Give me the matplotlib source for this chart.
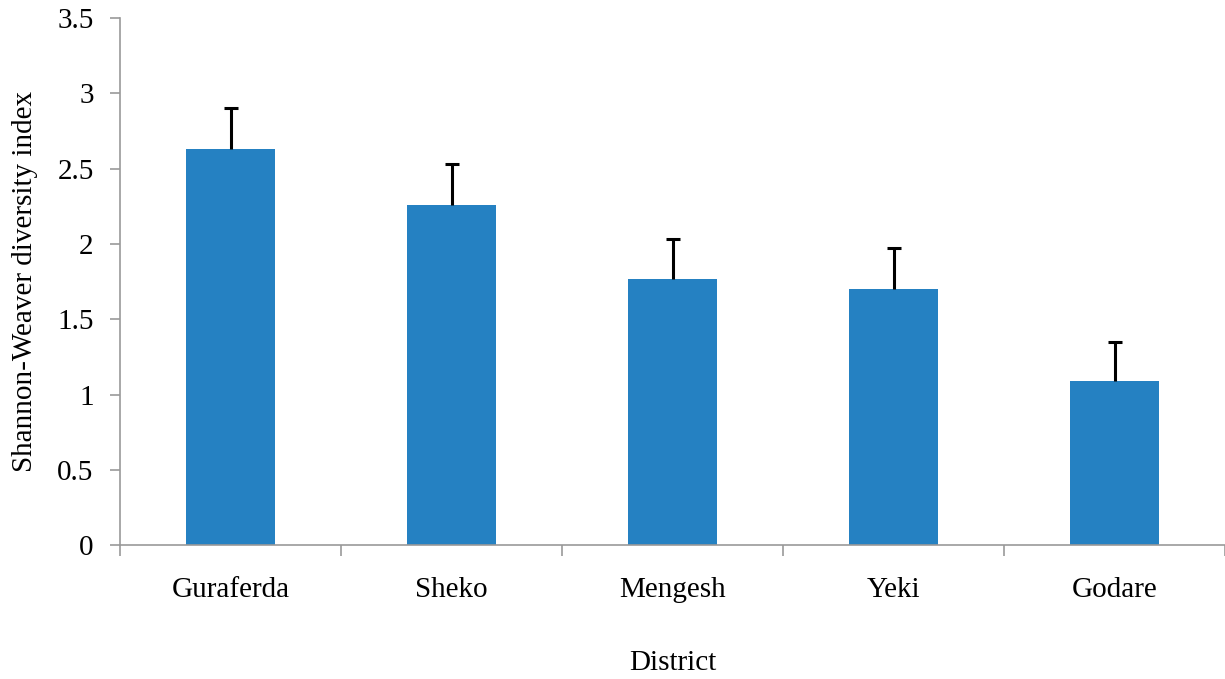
import matplotlib.pyplot as plt
import numpy as np

# data
districts = ["Guraferda", "Sheko", "Mengesh", "Yeki", "Godare"]
diversity = [2.63, 2.26, 1.77, 1.70, 1.09]
errors = [0.27, 0.27, 0.265, 0.27, 0.26]

plt.rcParams['font.family'] = ['Liberation Serif', 'DejaVu Serif']

fig = plt.figure(figsize=(12.25, 6.79), dpi=100)
ax = fig.add_axes([0.098, 0.197, 0.902, 0.7765])

x = np.arange(len(districts))
lower = np.zeros(len(errors))
ax.bar(x, diversity, width=0.4, color='#2581C2', zorder=2)
eb = ax.errorbar(x, diversity, yerr=[lower, errors], fmt='none', ecolor='black',
                 elinewidth=2.2, capsize=5, capthick=2.2, zorder=3)
# only the upper cap is shown
eb[1][0].set_visible(False)

ax.set_xlim(-0.5, len(districts) - 0.5)
ax.set_ylim(0, 3.5)
ax.set_yticks(np.arange(0, 3.51, 0.5))
ax.set_yticklabels(['0', '0.5', '1', '1.5', '2', '2.5', '3', '3.5'])

# category labels centred, ticks on the category boundaries
ax.set_xticks(x)
ax.set_xticklabels(districts)
ax.tick_params(axis='x', which='major', length=0, pad=23)
ax.set_xticks(np.arange(-0.5, len(districts) - 0.4, 1.0), minor=True)
ax.tick_params(axis='x', which='minor', length=8, color='#999999', width=1.2)
ax.tick_params(axis='y', length=7, color='#999999', width=1.2, pad=12)
ax.tick_params(labelsize=21)

for side in ['top', 'right']:
    ax.spines[side].set_visible(False)
for side in ['left', 'bottom']:
    ax.spines[side].set_color('#999999')
    ax.spines[side].set_linewidth(1.2)

ax.set_ylabel("Shannon-Weaver diversity index", fontsize=21, labelpad=14)
ax.set_xlabel("District", fontsize=21, labelpad=34)

fig.savefig("out.png", dpi=100)
